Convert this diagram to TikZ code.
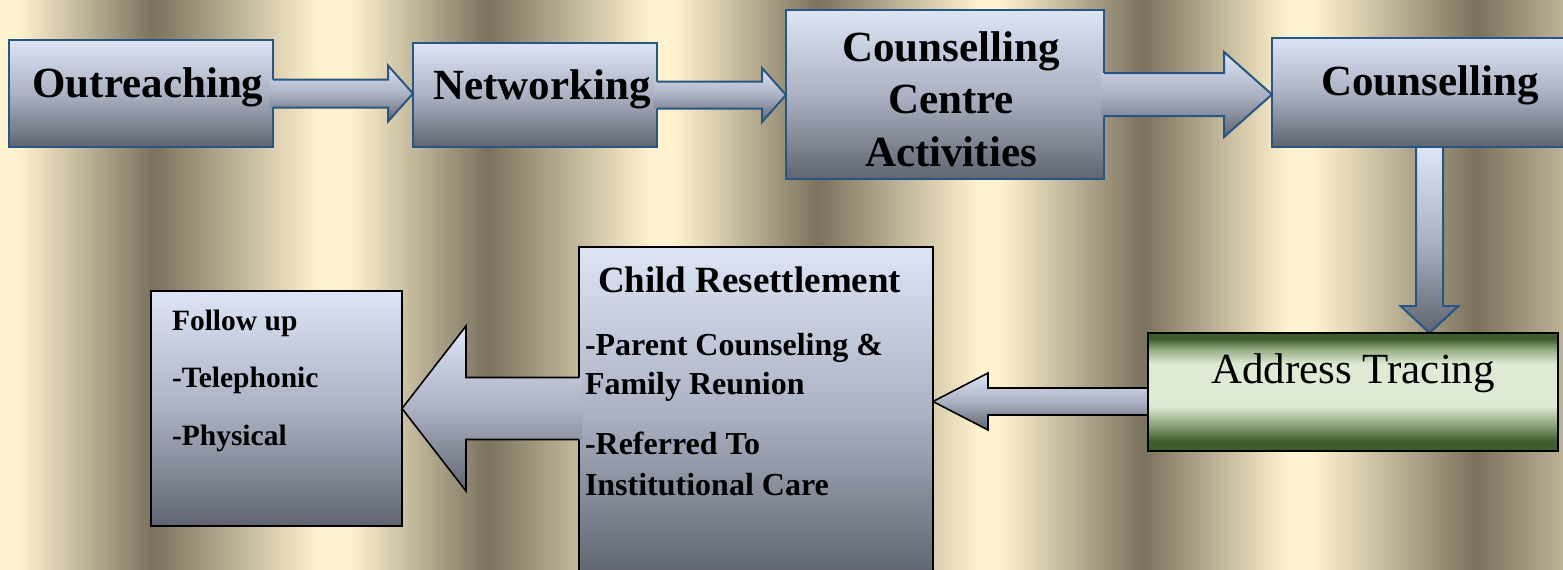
\documentclass[tikz,border=0pt]{standalone}
\usepackage{fontspec}
\setmainfont{Liberation Serif}
\usetikzlibrary{calc}
\definecolor{cream}{RGB}{255,242,206}
\definecolor{darkstripe}{RGB}{122,114,94}
\definecolor{edgemix}{RGB}{188,178,150}
\definecolor{boxtop}{RGB}{220,228,245}
\definecolor{boxmid}{RGB}{172,178,195}
\definecolor{boxbot}{RGB}{95,100,112}
\definecolor{blueedge}{RGB}{40,86,132}
\definecolor{gdark}{RGB}{62,92,45}
\definecolor{gmid}{RGB}{150,172,132}
\definecolor{glight}{RGB}{222,234,212}
\pgfdeclarehorizontalshading{bgstripes}{100bp}{color(0bp)=(cream); color(25bp)=(cream); color(25.6bp)=(cream); color(29.894bp)=(darkstripe); color(35.2bp)=(cream); color(36.2bp)=(cream); color(40.611bp)=(darkstripe); color(45.8bp)=(cream); color(46.6bp)=(cream); color(51.168bp)=(darkstripe); color(56.3bp)=(cream); color(57.0bp)=(cream); color(61.564bp)=(darkstripe); color(66.2bp)=(cream); color(67.0bp)=(cream); color(72.217bp)=(darkstripe); color(75bp)=(edgemix); color(100bp)=(edgemix)}
\pgfdeclareverticalshading{addrshade}{100bp}{color(0bp)=(gdark); color(25bp)=(gdark); color(29bp)=(gdark); color(37bp)=(gmid); color(44bp)=(glight); color(62bp)=(glight); color(68bp)=(gmid); color(72.5bp)=(gdark); color(75bp)=(gdark); color(100bp)=(gdark)}
\pgfdeclarelayer{back}
\pgfdeclarelayer{under}
\pgfsetlayers{back,under,main}
\tikzset{
  box/.style={rectangle, inner sep=0pt, outer sep=0pt, top color=boxtop, bottom color=boxbot, middle color=boxmid},
  blueframe/.style={draw=blueedge, line width=2.5pt},
  blackframe/.style={draw=black, line width=1.8pt},
  arrowfill/.style={top color=boxtop, bottom color=boxbot, middle color=boxmid},
  bluearrow/.style={draw=blueedge, line width=2pt, line join=miter},
  blackarrow/.style={draw=black, line width=1.6pt, line join=miter},
  lbl/.style={inner sep=0pt, outer sep=0pt, text=black},
  bigbold/.style={lbl, font=\bfseries\fontsize{43}{50}\selectfont},
  midbold/.style={lbl, font=\bfseries\fontsize{37}{42}\selectfont},
  smallbold/.style={lbl, font=\bfseries\fontsize{32}{36}\selectfont},
  tinybold/.style={lbl, font=\bfseries\fontsize{29.5}{34}\selectfont},
  plainbig/.style={lbl, font=\fontsize{43}{50}\selectfont}
}
% #1 start, #2 tip, #3 shaft half width, #4 head half width, #5 signed head offset, #6 line style, #7 fill overlap
\newcommand\blockH[7]{%
  \path[arrowfill] ($(#1)+(#7,-#3)$) -- ($(#2)+(#5,-#3)$) -- ($(#2)+(#5,-#4)$) -- (#2) -- ($(#2)+(#5,#4)$) -- ($(#2)+(#5,#3)$) -- ($(#1)+(#7,#3)$) -- cycle;
  \draw[#6] ($(#1)+(0,-#3)$) -- ($(#2)+(#5,-#3)$) -- ($(#2)+(#5,-#4)$) -- (#2) -- ($(#2)+(#5,#4)$) -- ($(#2)+(#5,#3)$) -- ($(#1)+(0,#3)$);
}
\begin{document}
\begin{tikzpicture}[x=1pt,y=-1pt]
\useasboundingbox (0,0) rectangle (1563,570);
\begin{pgfonlayer}{back}
  \shade[shading=bgstripes] (0,0) rectangle (1563,570);
\end{pgfonlayer}
\clip (0,0) rectangle (1563,570);

% boxes
\node[box, blueframe, minimum width=264, minimum height=107] (out) at (141,93.5) {};
\node[box, blueframe, minimum width=244, minimum height=104] (net) at (535,95) {};
\node[box, blueframe, minimum width=318, minimum height=169] (ccn) at (945,94.5) {};
\node[box, blueframe, minimum width=315, minimum height=109] (cns) at (1429.5,92.5) {};
\node[rectangle, inner sep=0pt, outer sep=0pt, shading=addrshade, draw=black, line width=2pt, minimum width=410, minimum height=118] (addr) at (1353,392) {};
\node[box, draw=black, line width=1.5pt, minimum width=354, minimum height=330] (child) at (756,412) {};
\node[box, blackframe, minimum width=251, minimum height=235] (fol) at (276.5,408.5) {};

% arrows between top boxes
\coordinate (a1t) at (net.west |- out.east);
\blockH{out.east}{a1t}{14}{28}{-25}{bluearrow}{-3}
\coordinate (a2t) at (ccn.west |- net.east);
\blockH{net.east}{a2t}{13.5}{27}{-24}{bluearrow}{-3}
\coordinate (a3t) at (cns.west |- ccn.east);
\blockH{ccn.east}{a3t}{21.5}{42.5}{-48}{bluearrow}{-3}

% down arrow and address arrow (behind boxes)
\begin{pgfonlayer}{under}
  \coordinate (dS) at (cns.south);
  \coordinate (dT) at (cns.south |- addr.north);
  \path[arrowfill] ($(dS)+(-13.5,0)$) -- ($(dT)+(-13.5,-27)$) -- ($(dT)+(-29,-27)$) -- (dT) -- ($(dT)+(29,-27)$) -- ($(dT)+(13.5,-27)$) -- ($(dS)+(13.5,0)$) -- cycle;
  \draw[bluearrow] ($(dS)+(-13.5,0)$) -- ($(dT)+(-13.5,-27)$) -- ($(dT)+(-29,-27)$) -- (dT) -- ($(dT)+(29,-27)$) -- ($(dT)+(13.5,-27)$) -- ($(dS)+(13.5,0)$);
  \coordinate (a4s) at ($(addr.west)+(0,9.5)$);
  \coordinate (a4t) at (child.east |- a4s);
  \blockH{a4s}{a4t}{13.5}{28.5}{55}{blackarrow}{3}
\end{pgfonlayer}

% child -> follow up arrow
\coordinate (a5t) at (fol.east);
\coordinate (a5s) at (child.west |- fol.east);
\blockH{a5s}{a5t}{31}{82.5}{64}{blackarrow}{3}

% texts
\node[bigbold, anchor=base] (tout) at (148,97) {Outreaching};
\node[bigbold, anchor=base] (tnet) at (542,99) {Networking};
\node[bigbold, anchor=base] (tcc1) at (951,61) {Counselling};
\node[bigbold, anchor=base] (tcc2) at (951,113) {Centre};
\node[bigbold, anchor=base] (tcc3) at (951,166) {Activities};
\node[bigbold, anchor=base] (tcns) at (1430,95) {Counselling};
\node[plainbig, anchor=base] (taddr) at (1353,383) {Address Tracing};
\node[midbold, anchor=base west] (tchild) at (598,292) {Child Resettlement};
\node[smallbold, anchor=base west] (tpar) at (585,355) {-Parent Counseling \&};
\node[smallbold, anchor=base west] (tfam) at (585,394) {Family Reunion};
\node[smallbold, anchor=base west] (tref) at (585,454) {-Referred To};
\node[smallbold, anchor=base west] (tinst) at (585,495) {Institutional Care};
\node[tinybold, anchor=base west] (tfol) at (172,330) {Follow up};
\node[tinybold, anchor=base west] (ttel) at (172,387) {-Telephonic};
\node[tinybold, anchor=base west] (tphy) at (172,445) {-Physical};
\end{tikzpicture}
\end{document}
